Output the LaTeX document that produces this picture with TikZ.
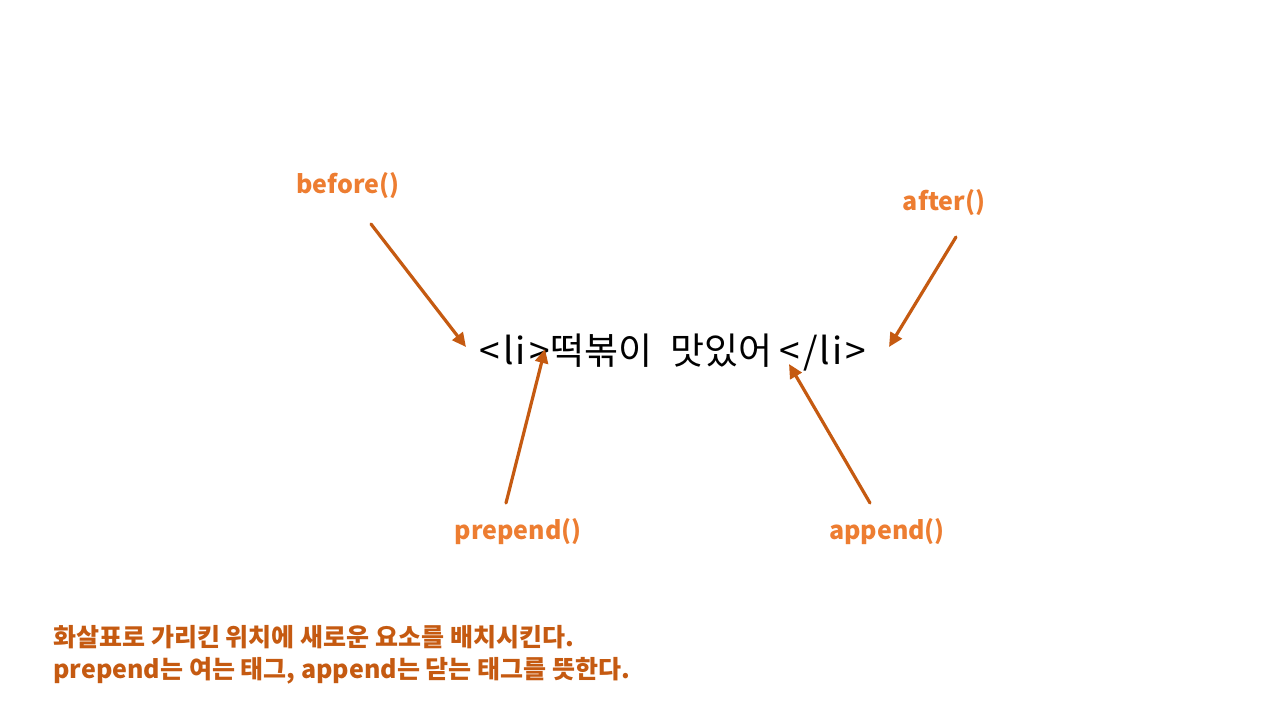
\documentclass[tikz,border=0pt]{standalone}
\usepackage{fontspec}
\newfontfamily\kr{Noto Sans CJK KR}
\usetikzlibrary{arrows.meta}
\definecolor{lblorange}{HTML}{ED7D31}
\definecolor{arrorange}{HTML}{C55A11}
\tikzset{
  fnlabel/.style={text=lblorange, font=\kr\bfseries\fontsize{12.5}{15}\selectfont, inner sep=0pt},
  pointer/.style={draw=arrorange, line width=1.6pt, -{Triangle[length=7pt,width=6.5pt]}},
}

\begin{document}
\begin{tikzpicture}[x=0.5pt, y=-0.5pt, line cap=round, line join=round]
\useasboundingbox (0,0) rectangle (1280,720);
\node[font=\kr\fontsize{18.5}{22}\selectfont, inner sep=0pt] (item) at (673,352)
  {<\kern1.5pt l\kern1pt i\kern1.5pt >\kern0.5pt 떡볶이\hspace{9pt}맛있어\kern3.5pt <\kern1.5pt /\kern1pt l\kern1pt i\kern1.5pt >};
\node[fnlabel] (before) at (348,186) {before()};
\node[fnlabel] (after) at (944,203) {after()};
\node[fnlabel] (prepend) at (518,532) {prepend()};
\node[fnlabel] (append) at (887,532) {append()};
\coordinate (beforeS) at (371,224);
\coordinate (beforeE) at (466,347);
\coordinate (afterS) at (956,237);
\coordinate (afterE) at (889,347);
\coordinate (prependS) at (506,503);
\coordinate (prependE) at (545,349);
\coordinate (appendS) at (870,503);
\coordinate (appendE) at (789,364);
\draw[pointer] (beforeS) -- (beforeE);
\draw[pointer] (afterS) -- (afterE);
\draw[pointer] (prependS) -- (prependE);
\draw[pointer] (appendS) -- (appendE);
\node[anchor=north west, align=left, inner sep=0pt, text=arrorange, font=\kr\bfseries\fontsize{12.5}{16}\selectfont] (note) at (53,625)
  {화살표로 가리킨 위치에 새로운 요소를 배치시킨다.\\prepend는 여는 태그, append는 닫는 태그를 뜻한다.};
\end{tikzpicture}
\end{document}
